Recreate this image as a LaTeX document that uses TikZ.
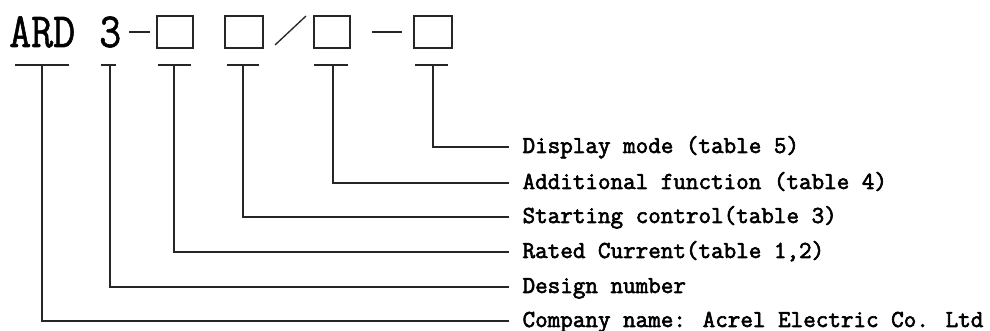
\documentclass[tikz,border=0pt]{standalone}
\usepackage{fontspec}
\usepackage{graphicx}
\newfontfamily\codfont[FakeBold=1.2]{Latin Modern Mono}
\newfontfamily\rotfont[FakeBold=2.5]{Latin Modern Mono}
\usetikzlibrary{positioning}

\begin{document}
\begin{tikzpicture}[x=0.75pt, y=-0.75pt,
      linea/.style={draw=black!85, line width=1.3pt},
      casilla/.style={rectangle, draw=black!85, line width=1.1pt, inner sep=0pt,
                      minimum width=27pt, minimum height=24pt},
      cabeza/.style={inner sep=0pt, anchor=base west,
                     font=\codfont\fontsize{32}{32}\selectfont},
      rotulo/.style={anchor=west, inner xsep=10pt, inner ysep=0pt, text height=9pt,
                     text depth=0pt, font=\rotfont\fontsize{18.3}{18.3}\selectfont}]
    \useasboundingbox (0,0) rectangle (990,331);

    % codigo del modelo
    \node[cabeza] (ard) at (9,47) {\scalebox{1}[1.15]{ARD}};
    \node[cabeza] (num) at (99,47) {\scalebox{1}[1.15]{3}};
    \draw[linea] (129,32) -- (150,32);
    \node[casilla] (c1) at (175,32) {};
    \node[casilla, minimum width=28.5pt] (c2) at (244,32) {};
    \draw[linea, line width=1pt] (275,45) -- (306,16);
    \node[casilla] (c3) at (332,32) {};
    \draw[linea] (372,32) -- (402,32);
    \node[casilla, minimum width=28.5pt] (c4) at (433,32) {};

    % marcas bajo cada campo
    \draw[linea] (15,65) -- (69,65);
    \draw[linea] (101,65) -- (116,65);
    \draw[linea] (158,65) -- (191,65);
    \draw[linea] (227,65) -- (259,65);
    \draw[linea] (314,65) -- (348,65);
    \draw[linea] (415,65) -- (448,65);
    \coordinate (m1) at (42,65);
    \coordinate (m2) at (110,65);
    \coordinate (m3) at (174,65);
    \coordinate (m4) at (243,65);
    \coordinate (m5) at (333,65);
    \coordinate (m6) at (433,65);

    % rotulos
    \node[rotulo] (modo) at (509,147) {Display mode (table 5)};
    \node[rotulo] (func) at (509,183) {Additional function (table 4)};
    \node[rotulo] (arra) at (509,217) {Starting control(table 3)};
    \node[rotulo] (corr) at (509,252) {Rated Current(table 1,2)};
    \node[rotulo] (dise) at (509,287) {Design number};
    \node[rotulo] (empr) at (509,321) {Company name: Acrel Electric Co. Ltd};

    \draw[linea] (m6) |- (modo.west);
    \draw[linea] (m5) |- (func.west);
    \draw[linea] (m4) |- (arra.west);
    \draw[linea] (m3) |- (corr.west);
    \draw[linea] (m2) |- (dise.west);
    \draw[linea] (m1) |- (empr.west);
  \end{tikzpicture}
\end{document}
